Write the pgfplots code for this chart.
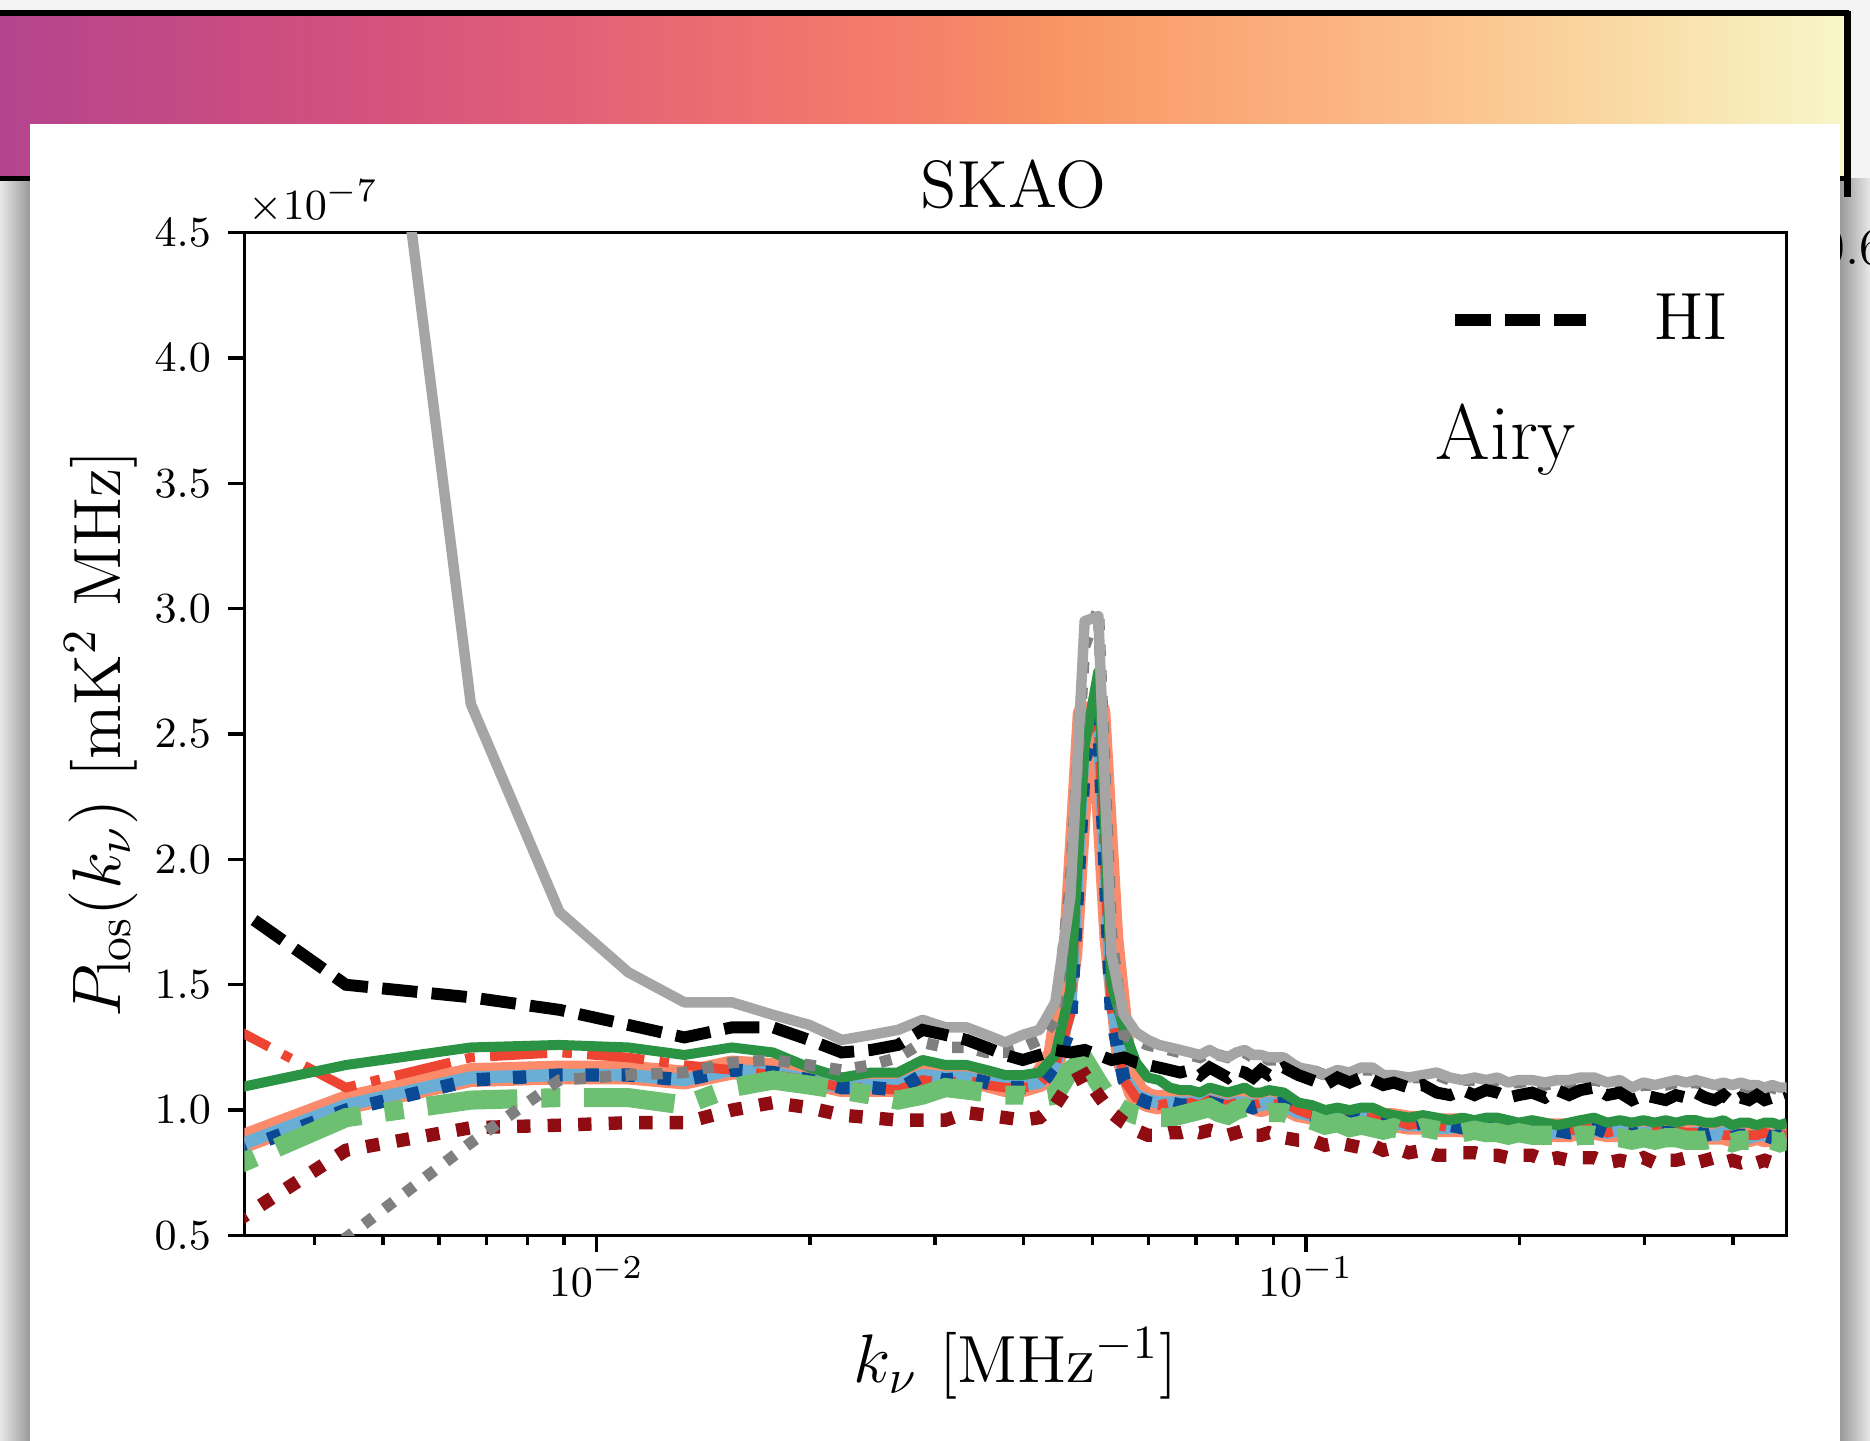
\documentclass[border=0pt]{standalone}
\usepackage{pgfplots}
\pgfplotsset{compat=1.18}
\usepackage{pgfplotstable}

\definecolor{m0}{HTML}{B4448E}
\definecolor{m1}{HTML}{C44A84}
\definecolor{m2}{HTML}{D4527D}
\definecolor{m3}{HTML}{E15F78}
\definecolor{m4}{HTML}{EE6E70}
\definecolor{m5}{HTML}{F48069}
\definecolor{m6}{HTML}{F89464}
\definecolor{m7}{HTML}{FAA573}
\definecolor{m8}{HTML}{FBB987}
\definecolor{m9}{HTML}{FAD29B}
\definecolor{m10}{HTML}{F8EBB9}
\definecolor{m11}{HTML}{F8F6C8}
\definecolor{shl}{HTML}{E8E8E8}
\definecolor{shd}{HTML}{9A9A9A}
\definecolor{bgc}{HTML}{F4F4F4}

\definecolor{gsolc}{HTML}{A5A5A5}
\definecolor{gdotc}{HTML}{7F7F7F}
\definecolor{greenc}{HTML}{2A9344}
\definecolor{redc}{HTML}{EE4432}
\definecolor{salmonc}{HTML}{FB8B6A}
\definecolor{lbluec}{HTML}{6AAED6}
\definecolor{dbluec}{HTML}{0A4A94}
\definecolor{lgreenc}{HTML}{6DBF72}
\definecolor{dredc}{HTML}{8E0C12}

\pgfplotstableread{
k bk gs gd gr rd sa lb db lg dr
0.002217 2.10 12.0 0.10 1.00 1.54 0.71 0.70 0.68 0.60 0.29
0.004434 1.50 6.60 0.49 1.18 1.09 1.03 1.02 1.00 0.97 0.84
0.006651 1.45 2.62 0.87 1.25 1.21 1.14 1.13 1.12 1.04 0.93
0.008868 1.40 1.79 1.12 1.26 1.23 1.15 1.14 1.14 1.05 0.94
0.011085 1.34 1.55 1.14 1.25 1.21 1.15 1.14 1.14 1.05 0.95
0.013302 1.29 1.43 1.15 1.22 1.18 1.13 1.12 1.12 1.02 0.95
0.015519 1.33 1.43 1.19 1.25 1.16 1.17 1.16 1.16 1.09 1.00
0.017736 1.33 1.38 1.20 1.23 1.14 1.16 1.15 1.15 1.12 1.03
0.019953 1.28 1.34 1.18 1.17 1.12 1.13 1.12 1.12 1.10 1.01
0.022170 1.23 1.28 1.16 1.13 1.09 1.10 1.09 1.09 1.08 0.98
0.024387 1.24 1.30 1.18 1.15 1.09 1.10 1.10 1.09 1.06 0.97
0.026604 1.26 1.32 1.21 1.15 1.08 1.10 1.10 1.08 1.04 0.96
0.028821 1.32 1.36 1.27 1.20 1.12 1.15 1.14 1.14 1.06 0.96
0.031038 1.30 1.33 1.25 1.18 1.11 1.13 1.13 1.12 1.09 0.96
0.033255 1.28 1.33 1.25 1.18 1.12 1.14 1.13 1.13 1.08 0.99
0.035472 1.25 1.30 1.23 1.16 1.10 1.12 1.11 1.11 1.07 0.98
0.037689 1.22 1.27 1.23 1.14 1.09 1.10 1.10 1.09 1.06 0.97
0.039906 1.20 1.30 1.25 1.14 1.09 1.10 1.10 1.09 1.06 0.96
0.042123 1.22 1.32 1.28 1.15 1.10 1.12 1.11 1.10 1.05 0.97
0.044340 1.24 1.43 1.36 1.22 1.18 1.22 1.18 1.17 1.06 1.02
0.046557 1.23 1.85 1.90 1.48 1.38 1.62 1.40 1.33 1.16 1.11
0.048774 1.24 2.95 2.85 2.45 2.50 2.58 2.52 2.40 1.20 1.14
0.050991 1.22 2.97 3.00 2.75 2.55 2.59 2.56 2.57 1.11 1.06
0.053208 1.20 1.62 1.70 1.50 1.40 1.68 1.45 1.38 1.03 0.99
0.055425 1.21 1.38 1.30 1.32 1.12 1.20 1.13 1.12 1.00 0.95
0.057642 1.19 1.31 1.28 1.19 1.05 1.07 1.06 1.05 0.98 0.92
0.059859 1.18 1.28 1.26 1.13 1.03 1.04 1.04 1.03 0.97 0.90
0.062076 1.17 1.26 1.25 1.12 1.02 1.03 1.03 1.02 0.97 0.90
0.064293 1.16 1.25 1.24 1.09 1.03 1.04 1.03 1.03 0.97 0.91
0.066510 1.15 1.24 1.23 1.08 1.02 1.03 1.03 1.02 0.98 0.91
0.068727 1.16 1.23 1.22 1.08 1.03 1.04 1.03 1.02 0.99 0.92
0.070944 1.14 1.22 1.21 1.07 1.02 1.03 1.03 1.03 1.00 0.91
0.073161 1.17 1.24 1.23 1.09 1.04 1.04 1.04 1.03 1.01 0.92
0.075378 1.15 1.22 1.22 1.08 1.03 1.03 1.03 1.02 0.99 0.91
0.077595 1.13 1.21 1.21 1.07 1.02 1.02 1.02 1.01 0.98 0.90
0.079812 1.16 1.23 1.22 1.08 1.03 1.03 1.03 1.03 1.00 0.91
0.082029 1.15 1.24 1.23 1.09 1.04 1.04 1.03 1.02 1.01 0.92
0.084246 1.13 1.22 1.21 1.07 1.02 1.03 1.02 1.01 0.99 0.90
0.086463 1.16 1.22 1.22 1.07 1.03 1.02 1.02 1.02 0.98 0.90
0.088680 1.14 1.21 1.20 1.08 1.02 1.03 1.03 1.02 0.99 0.91
0.093114 1.17 1.21 1.20 1.07 1.03 1.03 1.02 1.03 0.99 0.89
0.097548 1.14 1.17 1.17 1.03 1.00 1.00 0.99 0.99 0.97 0.88
0.101982 1.12 1.16 1.16 1.02 0.98 0.99 0.98 0.98 0.96 0.88
0.106416 1.10 1.14 1.14 1.00 0.97 0.97 0.97 0.96 0.94 0.86
0.110850 1.13 1.16 1.15 1.01 0.98 0.98 0.97 0.98 0.95 0.87
0.115284 1.11 1.15 1.14 1.00 0.96 0.97 0.96 0.97 0.93 0.86
0.119718 1.13 1.17 1.16 1.01 0.97 0.97 0.97 0.96 0.94 0.85
0.124152 1.12 1.17 1.16 1.01 0.97 0.98 0.97 0.97 0.93 0.86
0.128586 1.10 1.14 1.14 0.99 0.95 0.96 0.95 0.96 0.92 0.84
0.133020 1.11 1.14 1.13 0.98 0.96 0.96 0.95 0.95 0.93 0.85
0.139671 1.09 1.13 1.13 0.97 0.94 0.95 0.94 0.94 0.91 0.83
0.146322 1.10 1.14 1.13 0.98 0.95 0.95 0.94 0.95 0.93 0.84
0.152973 1.07 1.15 1.14 0.97 0.94 0.94 0.93 0.93 0.92 0.82
0.159624 1.06 1.13 1.12 0.96 0.93 0.94 0.93 0.94 0.91 0.82
0.166275 1.08 1.12 1.12 0.97 0.93 0.94 0.94 0.93 0.91 0.83
0.172926 1.06 1.13 1.12 0.96 0.94 0.93 0.93 0.94 0.92 0.83
0.179577 1.08 1.12 1.11 0.97 0.93 0.94 0.93 0.93 0.91 0.82
0.186228 1.07 1.13 1.12 0.97 0.93 0.93 0.93 0.92 0.91 0.82
0.192879 1.05 1.11 1.11 0.96 0.92 0.93 0.92 0.93 0.90 0.81
0.199530 1.06 1.12 1.11 0.95 0.92 0.92 0.92 0.92 0.91 0.82
0.208398 1.07 1.12 1.12 0.96 0.93 0.93 0.92 0.93 0.90 0.82
0.217266 1.05 1.11 1.10 0.95 0.92 0.92 0.91 0.91 0.90 0.80
0.226134 1.08 1.12 1.11 0.94 0.91 0.92 0.91 0.92 0.90 0.81
0.235002 1.06 1.12 1.11 0.95 0.92 0.92 0.92 0.91 0.89 0.80
0.243870 1.08 1.13 1.12 0.96 0.92 0.93 0.92 0.92 0.90 0.81
0.254955 1.09 1.13 1.12 0.97 0.93 0.93 0.92 0.93 0.90 0.81
0.266040 1.06 1.11 1.11 0.95 0.91 0.92 0.91 0.91 0.89 0.79
0.277125 1.07 1.12 1.11 0.96 0.92 0.92 0.92 0.92 0.89 0.80
0.288210 1.04 1.09 1.09 0.95 0.91 0.91 0.91 0.90 0.88 0.79
0.299295 1.06 1.11 1.10 0.96 0.91 0.92 0.91 0.92 0.89 0.81
0.310380 1.05 1.10 1.10 0.95 0.92 0.91 0.91 0.91 0.88 0.79
0.321465 1.04 1.11 1.10 0.96 0.91 0.91 0.91 0.91 0.89 0.80
0.332550 1.06 1.12 1.11 0.95 0.92 0.92 0.92 0.91 0.89 0.80
0.343635 1.05 1.11 1.11 0.96 0.91 0.91 0.90 0.90 0.88 0.81
0.354720 1.07 1.12 1.11 0.96 0.91 0.91 0.91 0.91 0.88 0.79
0.365805 1.05 1.11 1.10 0.95 0.90 0.91 0.90 0.90 0.88 0.80
0.376890 1.04 1.10 1.10 0.95 0.91 0.91 0.90 0.91 0.89 0.81
0.387975 1.06 1.11 1.10 0.96 0.90 0.91 0.91 0.90 0.88 0.79
0.399060 1.03 1.10 1.09 0.94 0.90 0.90 0.90 0.89 0.87 0.80
0.410145 1.05 1.11 1.10 0.95 0.91 0.91 0.90 0.90 0.88 0.79
0.421230 1.04 1.10 1.09 0.95 0.90 0.90 0.89 0.90 0.88 0.80
0.432315 1.06 1.10 1.10 0.94 0.90 0.91 0.90 0.89 0.87 0.79
0.443400 1.04 1.09 1.09 0.95 0.91 0.90 0.90 0.90 0.88 0.80
0.454485 1.05 1.10 1.09 0.95 0.90 0.90 0.90 0.89 0.88 0.79
0.465570 1.04 1.09 1.08 0.94 0.90 0.90 0.89 0.90 0.87 0.80
0.476655 1.05 1.09 1.09 0.95 0.90 0.90 0.90 0.89 0.88 0.80
}\datatable

\begin{document}
\begin{tikzpicture}
\useasboundingbox (0,0) rectangle (392pt,302pt);
\begin{scope}[x=0.25pt,y=-0.25pt,yshift=302pt]
  \fill[bgc] (0,0) rectangle (1568,1208);
  \fill[left color=shl, right color=shd] (0,150) rectangle (25,1208);
  \fill[left color=shd, right color=shl] (1543,150) rectangle (1568,1208);
  % colour bar in the background
  \fill[left color=m0, right color=m1] (0,12) rectangle (155,150);
  \fill[left color=m1, right color=m2] (154.5,12) rectangle (309.5,150);
  \fill[left color=m2, right color=m3] (309,12) rectangle (464,150);
  \fill[left color=m3, right color=m4] (463.5,12) rectangle (618.5,150);
  \fill[left color=m4, right color=m5] (618,12) rectangle (773,150);
  \fill[left color=m5, right color=m6] (772.5,12) rectangle (881.2,150);
  \fill[left color=m6, right color=m7] (880.7,12) rectangle (1004.8,150);
  \fill[left color=m7, right color=m8] (1004.3,12) rectangle (1159.3,150);
  \fill[left color=m8, right color=m9] (1158.8,12) rectangle (1313.8,150);
  \fill[left color=m9, right color=m10] (1313.3,12) rectangle (1468.3,150);
  \fill[left color=m10, right color=m11] (1467.8,12) rectangle (1546,150);
  \draw[line width=1.1pt] (0,11) -- (1550,11);
  \draw[line width=1.1pt] (0,150) -- (1550,150);
  \draw[line width=1.6pt] (1549,9) -- (1549,165);
  \node[anchor=base west, inner sep=0pt, font=\fontsize{11}{13}\selectfont] at (1525,222) {0.6};
  % white panel
  \fill[white] (25,104) rectangle (1543,1208);
\end{scope}

\begin{axis}[
  at={(51.25pt,43pt)}, anchor=south west,
  scale only axis, width=323.25pt, height=210.25pt,
  xmode=log, xmin=0.00319, xmax=0.476, ymin=0.5, ymax=4.5,
  xtick={0.01,0.1},
  minor xtick={0.004,0.005,0.006,0.007,0.008,0.009,0.02,0.03,0.04,0.05,0.06,0.07,0.08,0.09,0.2,0.3,0.4},
  ytick={0.5,1.0,1.5,2.0,2.5,3.0,3.5,4.0,4.5},
  yticklabel style={/pgf/number format/.cd, fixed, fixed zerofill, precision=1},
  xticklabel style={yshift=2.5pt},
  scaled y ticks=false,
  tick align=outside, xtick pos=left, ytick pos=left,
  major tick length=3.5pt, minor tick length=2pt,
  every tick/.style={black, line width=0.7pt},
  axis line style={line width=0.7pt},
  tick label style={font=\fontsize{9.4}{11}\selectfont},
  label style={font=\fontsize{14}{17}\selectfont},
  xlabel={$k_\nu$ [MHz$^{-1}$]},
  ylabel={$P_{\mathrm{los}}(k_\nu)$ [mK$^2$ MHz]},
  xlabel style={at={(axis description cs:0.5,-0.147)}, anchor=base},
  ylabel style={at={(axis description cs:-0.093,0.5)}, anchor=center},
  title={SKAO},
  title style={font=\fontsize{14}{17}\selectfont, at={(axis description cs:0.4988,0.996)}, anchor=base},
  clip mode=individual,
  legend style={draw=none, fill=none, at={(axis description cs:0.962,0.913)}, anchor=east,
    font=\fontsize{14}{17}\selectfont, inner sep=0pt, column sep=13pt, nodes={inner sep=0pt}},
  legend image code/.code={\draw[#1] (0pt,0pt) -- (27.5pt,0pt);},
]
\addplot[forget plot, salmonc, line width=5pt, line join=round] table[x=k,y=sa]{\datatable};
\addplot[forget plot, lbluec, line width=2.6pt, line join=round] table[x=k,y=lb]{\datatable};
\addplot[forget plot, redc, line width=2pt, dash pattern=on 12pt off 3.2pt on 2pt off 3.2pt] table[x=k,y=rd]{\datatable};
\addplot[forget plot, dbluec, line width=2.8pt, dash pattern=on 2.8pt off 4.8pt] table[x=k,y=db]{\datatable};
\addplot[forget plot, greenc, line width=2.1pt, line join=round] table[x=k,y=gr]{\datatable};
\addplot[forget plot, lgreenc, line width=4pt, dash pattern=on 19pt off 5pt on 4pt off 5pt] table[x=k,y=lg]{\datatable};
\addplot[forget plot, dredc, line width=2.8pt, dash pattern=on 2.8pt off 3.6pt] table[x=k,y=dr]{\datatable};
\addplot[forget plot, gdotc, line width=2.4pt, dash pattern=on 2.4pt off 3pt] table[x=k,y=gd]{\datatable};
\addplot[forget plot, gsolc, line width=2.2pt, line join=round] table[x=k,y=gs]{\datatable};
\addplot[black, line width=2.5pt, dash pattern=on 7.4pt off 3pt] table[x=k,y=bk]{\datatable};
\addlegendentry{HI}
\node[anchor=base west, inner sep=0pt, font=\fontsize{16.5}{19}\selectfont] at (axis description cs:0.772,0.774) {Airy};
\node[anchor=base west, inner sep=0pt, font=\fontsize{9.4}{11}\selectfont] at (axis description cs:0.002,1.013) {$\times 10^{-7}$};
\end{axis}
\end{tikzpicture}
\end{document}
